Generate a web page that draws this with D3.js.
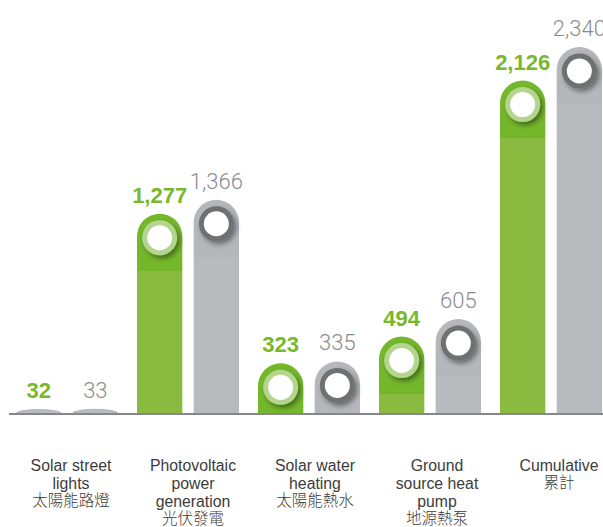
<!DOCTYPE html>
<html>
<head>
<meta charset="utf-8">
<script src="https://cdn.jsdelivr.net/npm/d3@7/dist/d3.min.js"></script>
<style>
  html, body { margin: 0; padding: 0; background: #fff; }
  svg { display: block; }
</style>
</head>
<body>
<svg id="chart" width="603" height="527"></svg>
<script>
// ---- data ----
const categoriesEn = [["Solar street", "lights"], ["Photovoltaic", "power", "generation"], ["Solar water", "heating"], ["Ground", "source heat", "pump"], ["Cumulative"]];
const categoriesZh = ["太陽能路燈", "光伏發電", "太陽能熱水", "地源熱泵", "累計"];
const seriesNames = ["green", "gray"];
const greenValues = [32, 1277, 323, 494, 2126];
const grayValues = [33, 1366, 335, 605, 2340];

// ---- setup ----
const W = 603, H = 527;
const svg = d3.select("#chart");
const idx = d3.range(categoriesZh.length);

const x = d3.scaleBand().domain(idx).range([16, 16 + 5 * 121]).padding(0);
const xs = d3.scaleBand().domain(seriesNames).range([0, 102]).paddingInner(0.2).paddingOuter(0);
const xl = d3.scalePoint().domain(idx).range([71, 559]);
const y = d3.scaleLinear().domain([0, 2340]).range([414, 47]);

const base = y(0) - 1;

const style = {
  green: { fill: "#8bba41", top: "#74b72b", ring: "#b3d58d", label: "#78b82a", weight: 700, family: "'Liberation Sans', Arial, sans-serif" },
  gray:  { fill: "#b9babe", top: "#b6b7bb", ring: "#6e6f72", label: "#8a8b8e", weight: 300, family: "Roboto, 'Liberation Sans', sans-serif" }
};

const defs = svg.append("defs");
const f = defs.append("filter").attr("id", "shadow").attr("x", "-50%").attr("y", "-50%").attr("width", "200%").attr("height", "200%");
f.append("feDropShadow").attr("dx", 2.5).attr("dy", 3).attr("stdDeviation", 2.8).attr("flood-color", "#000").attr("flood-opacity", 0.42);

function barPath(x0, w, t) {
  const r = w / 2;
  const ry = Math.min(r, base - t);
  return `M${x0},${base} L${x0},${t + ry} A${r},${ry} 0 0 1 ${x0 + w},${t + ry} L${x0 + w},${base} Z`;
}

const rows = [];
idx.forEach(i => {
  rows.push({ i, s: "green", v: greenValues[i] });
  rows.push({ i, s: "gray", v: grayValues[i] });
});

const g = svg.append("g");
rows.forEach((d, k) => {
  const st = style[d.s];
  const x0 = x(d.i) + xs(d.s);
  const w = xs.bandwidth();
  const t = y(d.v);
  const h = base - t;
  const gid = "grad" + k;
  const lg = defs.append("linearGradient").attr("id", gid)
    .attr("gradientUnits", "userSpaceOnUse").attr("x1", 0).attr("x2", 0).attr("y1", t).attr("y2", base);
  const edge = Math.min(1, 57 / Math.max(h, 1));
  lg.append("stop").attr("offset", 0).attr("stop-color", st.top);
  lg.append("stop").attr("offset", edge).attr("stop-color", st.top);
  lg.append("stop").attr("offset", edge).attr("stop-color", st.fill);
  lg.append("stop").attr("offset", 1).attr("stop-color", st.fill);

  g.append("path").attr("d", barPath(x0, w, t))
    .attr("fill", h > 40 ? `url(#${gid})` : style.gray.fill);

  if (h > 40) {
    const cx = x0 + w / 2, cy = t + 24;
    g.append("circle").attr("cx", cx).attr("cy", cy).attr("r", 17.5).attr("fill", st.ring).attr("filter", "url(#shadow)");
    g.append("circle").attr("cx", cx).attr("cy", cy).attr("r", 12.5).attr("fill", "#fff");
  }

  g.append("text")
    .attr("x", x0 + w / 2).attr("y", t - 11)
    .attr("text-anchor", "middle")
    .attr("font-family", st.family)
    .attr("font-weight", st.weight)
    .attr("font-size", 22)
    .attr("fill", st.label)
    .text(d3.format(",")(d.v));
});

// baseline
svg.append("line").attr("x1", 9).attr("x2", W).attr("y1", y(0)).attr("y2", y(0))
  .attr("stroke", "#86878a").attr("stroke-width", 2);

// category labels
const lab = svg.append("g").attr("fill", "#3c3c3c").attr("text-anchor", "middle");
idx.forEach(i => {
  const lines = categoriesEn[i].concat([categoriesZh[i]]);
  lines.forEach((ln, j) => {
    const zh = j === lines.length - 1;
    lab.append("text")
      .attr("x", xl(i)).attr("y", 470.5 + j * 18.3 - (zh ? 1 : 0))
      .attr("font-family", zh ? "'Noto Sans CJK TC', sans-serif" : "'Liberation Sans', Arial, sans-serif")
      .attr("font-weight", zh ? 300 : 400)
      .attr("font-size", zh ? 15.5 : 15.8)
      .text(ln);
  });
});
</script>
</body>
</html>
